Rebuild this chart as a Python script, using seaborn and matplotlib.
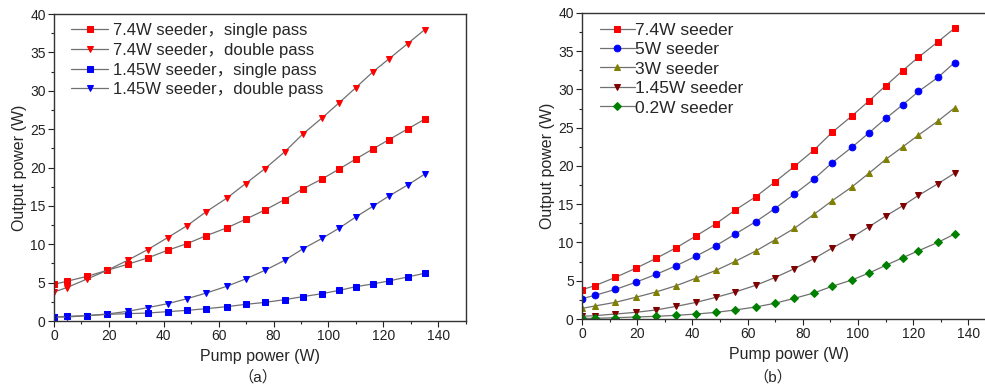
import matplotlib
matplotlib.use("Agg")
import matplotlib.pyplot as plt
import seaborn as sns
from matplotlib.ticker import MultipleLocator

sns.set_style("ticks")
plt.rcParams['font.family'] = ['Liberation Sans', 'Noto Sans CJK SC', 'DejaVu Sans']

# pump power (W)
pump = [0, 4.6, 12.1, 19.4, 26.8, 34.1, 41.4, 48.5, 55.5, 62.9, 69.8,
        76.9, 84.0, 90.6, 97.7, 104.0, 110.0, 116.2, 121.9, 128.9, 135.0]

# panel (a)
s74_single = [4.78, 5.17, 5.83, 6.61, 7.39, 8.22, 9.22, 10.09, 11.13, 12.13, 13.26,
              14.48, 15.83, 17.22, 18.52, 19.83, 21.13, 22.43, 23.61, 25.04, 26.3]
s74_double = [3.78, 4.35, 5.48, 6.61, 7.91, 9.30, 10.87, 12.43, 14.26, 16.0, 17.91,
              19.87, 22.04, 24.35, 26.48, 28.48, 30.43, 32.48, 34.13, 36.17, 37.96]
s145_single = [0.52, 0.61, 0.70, 0.87, 0.96, 1.04, 1.22, 1.39, 1.61, 1.87, 2.17,
               2.43, 2.78, 3.17, 3.57, 4.0, 4.48, 4.83, 5.22, 5.74, 6.22]
s145_double = [0.52, 0.52, 0.70, 0.91, 1.26, 1.74, 2.26, 2.91, 3.65, 4.52, 5.48,
               6.61, 7.91, 9.39, 10.78, 12.13, 13.57, 14.96, 16.26, 17.74, 19.13]

# panel (b)
b74 = [3.83, 4.35, 5.44, 6.62, 7.92, 9.31, 10.88, 12.45, 14.24, 15.97, 17.89,
       19.93, 22.07, 24.38, 26.51, 28.51, 30.47, 32.47, 34.21, 36.21, 38.0]
b5 = [2.66, 3.09, 3.87, 4.79, 5.83, 6.96, 8.23, 9.58, 11.10, 12.71, 14.41,
      16.32, 18.28, 20.41, 22.42, 24.33, 26.20, 27.99, 29.73, 31.56, 33.51]
b3 = [1.39, 1.70, 2.18, 2.83, 3.53, 4.35, 5.35, 6.35, 7.53, 8.88, 10.32,
      11.84, 13.67, 15.45, 17.24, 19.06, 20.85, 22.50, 24.03, 25.85, 27.60]
b145 = [0.35, 0.44, 0.65, 0.87, 1.18, 1.65, 2.18, 2.83, 3.53, 4.40, 5.40,
        6.57, 7.88, 9.27, 10.66, 12.06, 13.45, 14.80, 16.15, 17.67, 19.06]
b02 = [0.09, 0.09, 0.17, 0.26, 0.35, 0.48, 0.65, 0.87, 1.18, 1.57, 2.05,
       2.70, 3.40, 4.27, 5.09, 6.01, 7.01, 8.01, 8.92, 10.01, 11.10]

series_a = [
    (s74_single, "7.4W seeder，single pass", "s", "#ff0000"),
    (s74_double, "7.4W seeder，double pass", "v", "#ff0000"),
    (s145_single, "1.45W seeder，single pass", "s", "#0000ff"),
    (s145_double, "1.45W seeder，double pass", "v", "#0000ff"),
]
series_b = [
    (b74, "7.4W seeder", "s", "#ff0000"),
    (b5, "5W seeder", "o", "#0000ff"),
    (b3, "3W seeder", "^", "#808000"),
    (b145, "1.45W seeder", "v", "#800000"),
    (b02, "0.2W seeder", "D", "#008000"),
]

fig = plt.figure(figsize=(9.85, 3.87), dpi=100)
ax1 = fig.add_axes([0.0548, 0.1705, 0.418, 0.793])
ax2 = fig.add_axes([0.5909, 0.1757, 0.4203, 0.791])


def draw(ax, series, hlen, hpad, fs, lsp):
    for ys, lab, mk, col in series:
        ms = 4.0 if mk == "D" else 4.8
        sns.lineplot(x=pump, y=ys, ax=ax, color="#707070", linewidth=0.9,
                     marker=mk, markersize=ms, markerfacecolor=col,
                     markeredgecolor=col, label=lab)
    ax.set_xlim(0, 150)
    ax.set_ylim(0, 40)
    ax.xaxis.set_major_locator(MultipleLocator(20))
    ax.xaxis.set_minor_locator(MultipleLocator(10))
    ax.yaxis.set_major_locator(MultipleLocator(5))
    ax.yaxis.set_minor_locator(MultipleLocator(2.5))
    ax.tick_params(which="major", direction="out", length=4, width=0.8,
                   labelsize=10, pad=2, colors="#222222")
    ax.tick_params(which="minor", direction="out", length=2.5, width=0.8)
    for sp in ax.spines.values():
        sp.set_color("#333333")
        sp.set_linewidth(1.0)
        sp.set_visible(True)
    ax.set_xlabel("Pump power (W)", fontsize=11.5, labelpad=4)
    ax.set_ylabel("Output power (W)", fontsize=11.5, labelpad=2)
    ax.legend(loc="upper left", frameon=False, fontsize=fs, handlelength=hlen,
              handletextpad=hpad, labelspacing=lsp,
              borderaxespad=0.15, bbox_to_anchor=(0.02, 1.0))


draw(ax1, series_a, 2.2, 0.3, 12, 0.28)
draw(ax2, series_b, 2.0, 0.05, 12.5, 0.25)

fig.text(0.262, 0.015, "（a）", ha="center", fontsize=11)
fig.text(0.785, 0.015, "（b）", ha="center", fontsize=11)

fig.savefig("out.png", dpi=100)
